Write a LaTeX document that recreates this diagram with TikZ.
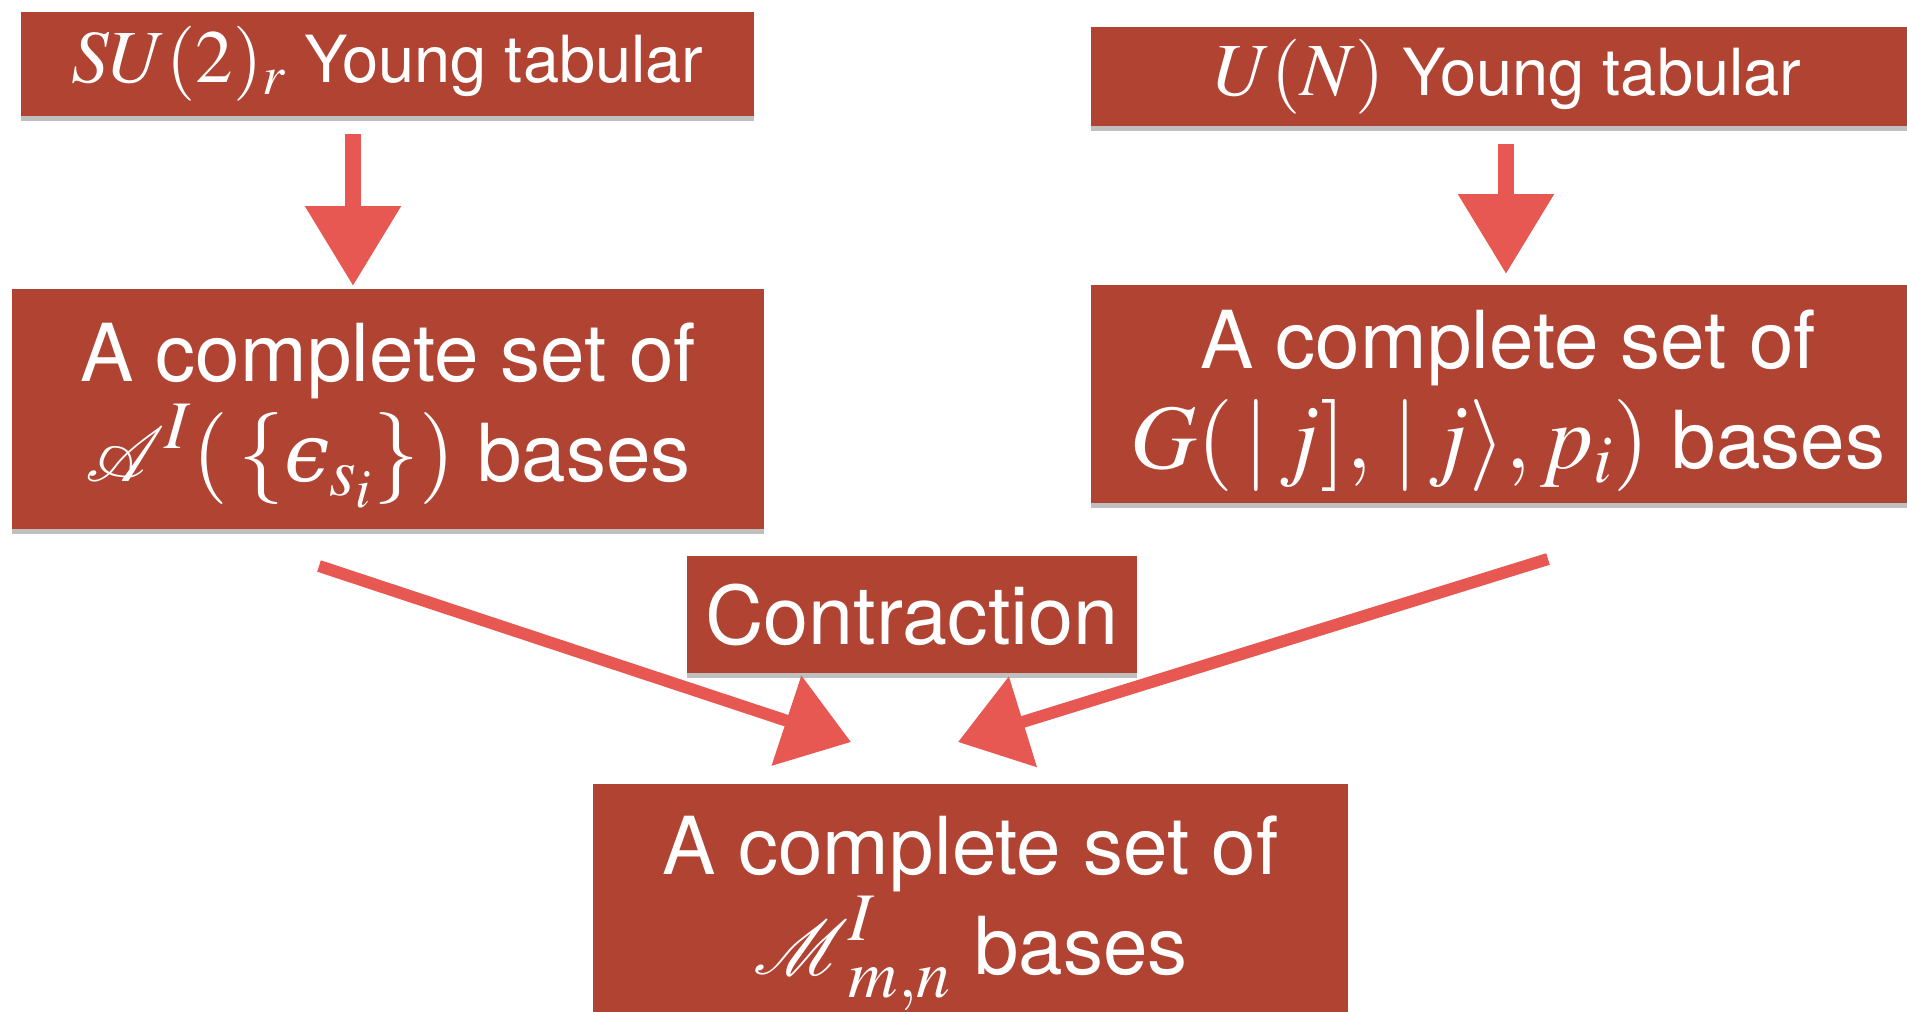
\documentclass[tikz,border=0pt]{standalone}
\usepackage{mathptmx}
\usepackage{mathrsfs}
\usepackage{graphicx}
\usepackage[no-math]{fontspec}
\setmainfont{TeX Gyre Heros}
\newfontfamily\dvserif{DejaVu Serif}[Scale=0.88]
\newcommand\lunateps{\mbox{\dvserif\itshape\symbol{"03F5}}}
\usetikzlibrary{arrows.meta,shadows}
\definecolor{boxred}{RGB}{176,67,50}
\definecolor{arrred}{RGB}{232,88,82}
\newcommand\bigmath{\fontsize{46}{49}\selectfont}
\newcommand\smallmath{\fontsize{37.5}{38}\selectfont}
\newcommand\bigscr[1]{\mbox{\scalebox{1.55}{$\mathscr{#1}$}}}
\newcommand\topstrut{\rule{0pt}{36pt}}
\begin{document}
\begin{tikzpicture}[x=0.5pt,y=-0.5pt,
 card/.style={fill=boxred, text=white, inner sep=0pt, align=center,
   drop shadow={shadow xshift=0pt, shadow yshift=-2.5pt, opacity=0.25, fill=black}},
 smalltxt/.style={font=\fontsize{32.5}{37}\selectfont},
 bigtxt/.style={font=\fontsize{40}{50}\selectfont},
 vertarrow/.style={draw=arrred, line width=8pt, -{Triangle[length=40pt,width=46pt]}},
 diagarrow/.style={draw=arrred, line width=6pt, -{Triangle[length=34pt,width=46pt]}}
]
\useasboundingbox (0,0) rectangle (1907,1012);
\clip (0,0) rectangle (1907,1012);
\node[card, smalltxt, minimum width=366.5pt, minimum height=52pt] (su) at (387.5,64) {{\smallmath$SU(2)_r$} Young tabular};
\node[card, smalltxt, minimum width=417pt, minimum height=49.5pt] (un) at (1508,76.5) {{\smallmath$U(N)$} Young tabular};
\node[card, bigtxt, minimum width=376pt, minimum height=120pt] (abase) at (388,409) {\topstrut A complete set of\\ {\bigmath$\bigscr{A}^I(\,\{\lunateps_{s_i}\})$} bases};
\node[card, bigtxt, minimum width=417pt, minimum height=109pt] (gbase) at (1508,394) {\topstrut A complete set of\\ {\bigmath$G(\,|\,j],\,|\,j\rangle,p_i)$} bases};
\node[card, font=\fontsize{40.5}{47}\selectfont, minimum width=225pt, minimum height=58.5pt] (con) at (912,614.5) {Contraction};
\node[card, bigtxt, minimum width=377.5pt, minimum height=129pt] (mbase) at (970.5,913) {A complete set of\\ {\bigmath$\bigscr{M}^I_{m,n}$} bases};
\coordinate (a1s) at (353,134);
\coordinate (a1e) at (353,286);
\coordinate (a2s) at (1506,144);
\coordinate (a2e) at (1506,274);
\coordinate (a3s) at (319,566);
\coordinate (a3e) at (851,742);
\coordinate (a4s) at (1548,559);
\coordinate (a4e) at (958,742);
\draw[vertarrow] (a1s) -- (a1e);
\draw[vertarrow] (a2s) -- (a2e);
\draw[diagarrow] (a3s) -- (a3e);
\draw[diagarrow] (a4s) -- (a4e);
\end{tikzpicture}
\end{document}
